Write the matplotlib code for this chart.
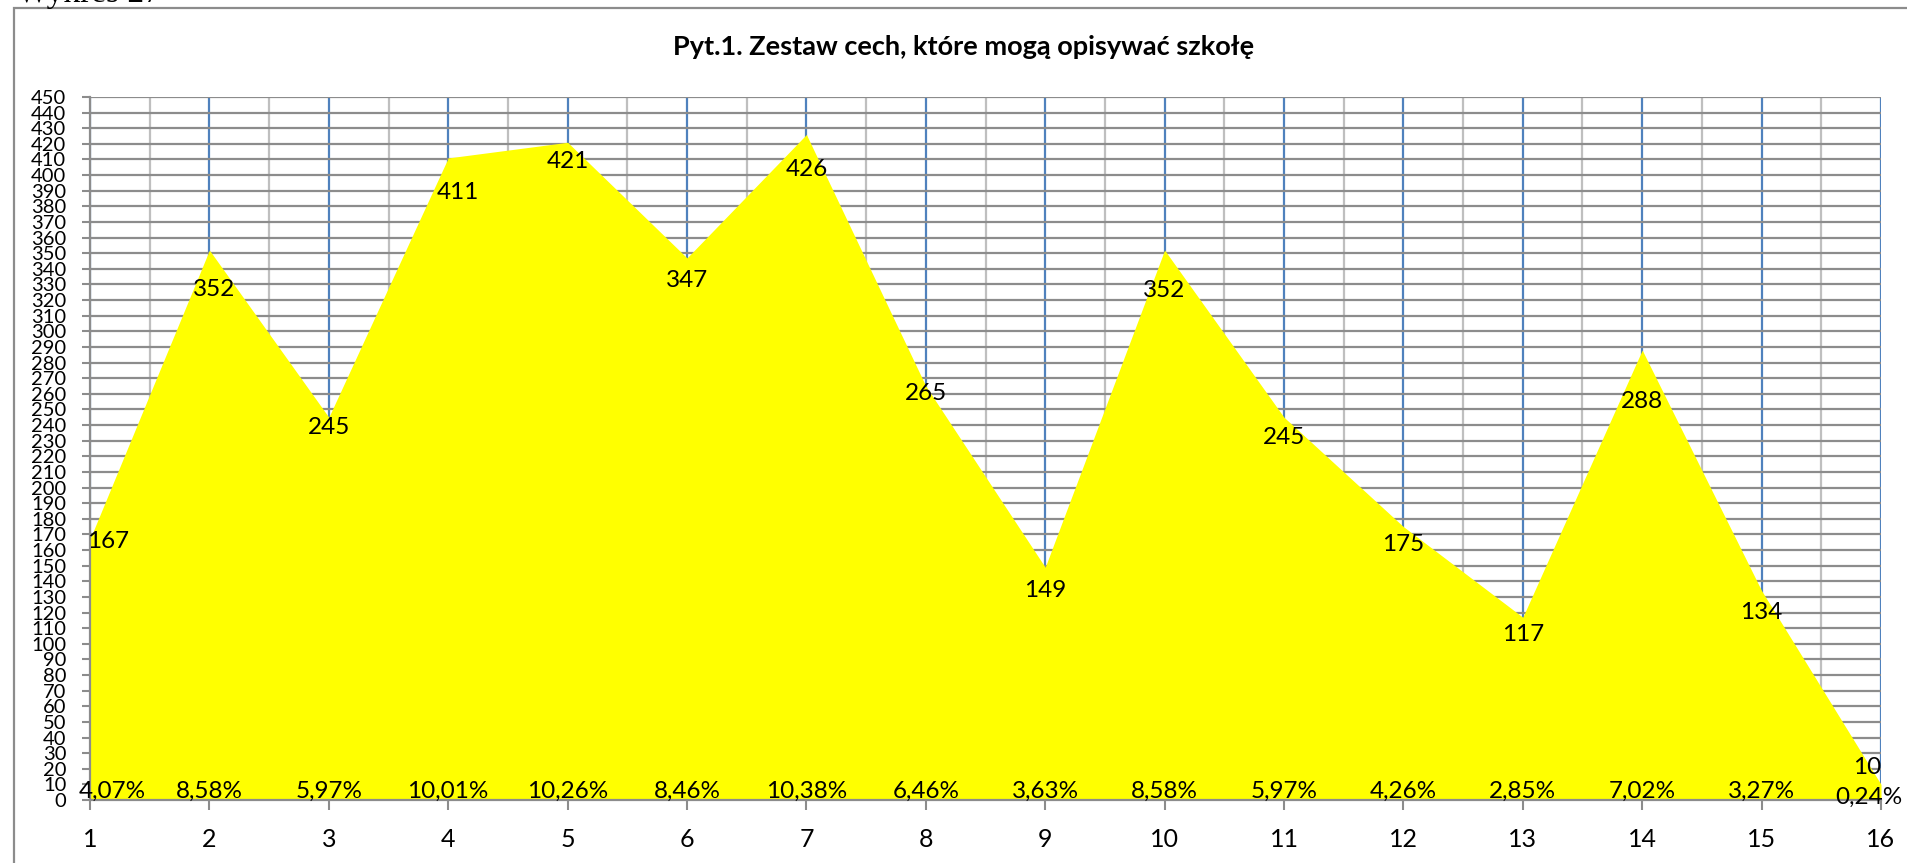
import matplotlib
matplotlib.use("Agg")
import matplotlib.pyplot as plt
from matplotlib.patches import Rectangle
from matplotlib.ticker import MultipleLocator

plt.rcParams['font.family'] = ['Lato', 'DejaVu Sans']

# dane
pozycje = list(range(1, 17))
liczby = [167, 352, 245, 411, 421, 347, 426, 265, 149, 352, 245, 175, 117, 288, 134, 10]
procenty = ["4,07%", "8,58%", "5,97%", "10,01%", "10,26%", "8,46%", "10,38%", "6,46%",
            "3,63%", "8,58%", "5,97%", "4,26%", "2,85%", "7,02%", "3,27%", "0,24%"]
y_ticks = list(range(0, 451, 10))

# przesunięcia etykiet (piksele): dx, dy w dół od wartości
etyk_dx = [-3, 5, 0, 10, 0, 0, 0, 0, 0, 0, 0, 0, 0, 0, 0, 0]
etyk_dy = [2, 39, 10, 35, 19, 23, 35, 7, 23, 40, 20, 18, 17, 51, 22, -17]

W, H = 1907, 863
fig = plt.figure(figsize=(W / 100, H / 100), dpi=100)
fig.patch.set_facecolor("white")

# ramka wykresu
y_top = 1 - 8 / H
fig.add_artist(Rectangle((14 / W, -0.05), 1.5, y_top + 0.05, transform=fig.transFigure,
                         fill=False, ec="#8c8c8c", lw=1.6))
fig.text(17 / W, 1 - 2 / H, "Wykres 27", family="Liberation Serif", fontsize=24,
         ha="left", va="baseline")

ax = fig.add_axes([90 / W, 1 - 800 / H, (1881 - 90) / W, (800 - 97) / H])
ax.set_xlim(1, 16)
ax.set_ylim(0, 450)

ax.fill_between(pozycje, liczby, 0, color="#FFFF00", lw=0, zorder=2)

ax.set_yticks(y_ticks)
ax.set_yticklabels([str(v) for v in y_ticks], fontsize=14.5)
ax.set_xticks(pozycje)
ax.set_xticklabels([str(p) for p in pozycje], fontsize=18)
ax.xaxis.set_minor_locator(MultipleLocator(0.5))

ax.set_axisbelow(True)
ax.yaxis.grid(True, color="#8c8c8c", lw=1.6, zorder=0)
ax.xaxis.grid(True, which="major", color="#4f81bd", lw=1.6, zorder=0)
ax.xaxis.grid(True, which="minor", color="#bfbfbf", lw=1.6, zorder=0)

ax.tick_params(axis="y", length=6, width=1.5, color="#8c8c8c", pad=11)
ax.tick_params(axis="x", which="major", length=7, width=1.5, color="#8c8c8c", pad=13)
ax.tick_params(axis="x", which="minor", length=0)

for s in ["top", "right"]:
    ax.spines[s].set_visible(False)
for s in ["left", "bottom"]:
    ax.spines[s].set_color("#8c8c8c")
    ax.spines[s].set_linewidth(1.6)
    ax.spines[s].set_zorder(3)

# etykiety liczb
for i, (x, v) in enumerate(zip(pozycje, liczby)):
    ha = "center"
    if i == 0:
        ha = "left"
    elif i == len(liczby) - 1:
        ha = "right"
    ax.annotate(str(v), (x, v), xytext=(etyk_dx[i] * 0.72, -etyk_dy[i] * 0.72),
                textcoords="offset points", ha=ha, va="center", fontsize=17.5,
                zorder=5, annotation_clip=False)

# etykiety procentów
for i, (x, p) in enumerate(zip(pozycje, procenty)):
    ha = "center"
    dx, dy = 0, 9
    if i == 0:
        ha, dx = "left", -11
    elif i == len(procenty) - 1:
        dx, dy = -12, 3
    ax.annotate(p, (x, 0), xytext=(dx * 0.72, dy * 0.72), textcoords="offset points",
                ha=ha, va="center", fontsize=17.5, zorder=5, annotation_clip=False)

fig.text(964 / W, 1 - 47 / H, "Pyt.1. Zestaw cech, które mogą opisywać szkołę",
         ha="center", va="center", fontsize=19.5, fontweight="bold")

fig.savefig("out.png", dpi=100, facecolor="white")
